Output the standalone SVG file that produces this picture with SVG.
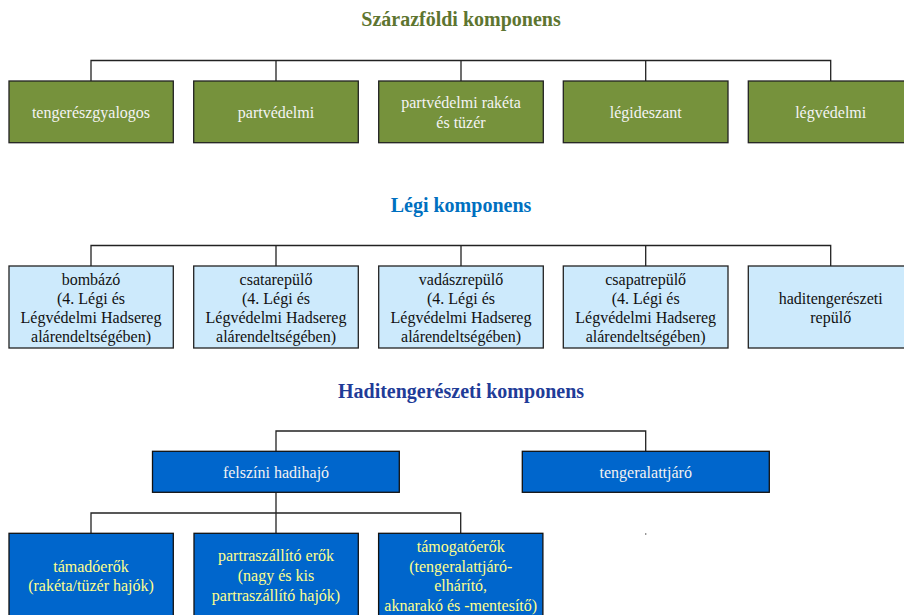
<svg xmlns="http://www.w3.org/2000/svg" width="904" height="615" viewBox="0 0 904 615" font-family="'Liberation Serif', 'DejaVu Serif', serif">
<style>
text{font-family:'Liberation Serif','Times New Roman',serif;text-anchor:middle;dominant-baseline:central}
.title{font-size:20px;font-weight:bold}
.t1{fill:#5e7530}.t2{fill:#0070c0}.t3{fill:#1f3c98}
.g rect{fill:#76923c;stroke:#222;stroke-width:1.3}
.g text{fill:#f4f4f4;font-size:16px}
.l rect{fill:#cdeafc;stroke:#222;stroke-width:1.3}
.l text{fill:#111;font-size:16px}
.b rect{fill:#0066cc;stroke:#111;stroke-width:1.3}
.b text{fill:#f2f2f2;font-size:16px}
.y text{fill:#ffff8c}
.conn path{fill:none;stroke:#222;stroke-width:1.3}
</style>
<text class="title t1" x="461" y="19">Szárazföldi komponens</text>
<text class="title t2" x="461" y="205">Légi komponens</text>
<text class="title t3" x="461" y="391">Haditengerészeti komponens</text>
<g id="connectors" class="conn">
<path d="M91 81V60.5H830.7V81M276 60.5V81M461 60.5V81M645.7 60.5V81"/>
<path d="M91 266V245.5H830.7V266M276 245.5V266M461 245.5V266M645.7 245.5V266"/>
<path d="M276 451V431H645.7V451"/>
<path d="M276 492V513M91 533V513H460.7V533M276 513V533"/>
<path d="M645.7 533.5V534.5" stroke="#999"/>
</g>
<g id="n_tengereszgyalogos" class="g"><rect x="9" y="81" width="164.3" height="61.7"/><text x="91" y="112">tengerészgyalogos</text></g>
<g id="n_partvedelmi" class="g"><rect x="193.7" y="81" width="164.6" height="61.7"/><text x="276" y="112">partvédelmi</text></g>
<g id="n_raketa" class="g"><rect x="378.7" y="81" width="164.6" height="61.7"/><text x="461" y="102">partvédelmi rakéta</text><text x="461" y="122">és tüzér</text></g>
<g id="n_legideszant" class="g"><rect x="563.3" y="81" width="164.7" height="61.7"/><text x="645.7" y="112">légideszant</text></g>
<g id="n_legvedelmi" class="g"><rect x="748.3" y="81" width="165" height="61.7"/><text x="830.7" y="112">légvédelmi</text></g>
<g id="n_bombazo" class="l"><rect x="9" y="266" width="164.3" height="82"/><text x="91" y="279.5">bombázó</text><text x="91" y="298.5">(4. Légi és</text><text x="91" y="317.7">Légvédelmi Hadsereg</text><text x="91" y="336.7">alárendeltségében)</text></g>
<g id="n_csatarepulo" class="l"><rect x="193.7" y="266" width="164.6" height="82"/><text x="276" y="279.5">csatarepülő</text><text x="276" y="298.5">(4. Légi és</text><text x="276" y="317.7">Légvédelmi Hadsereg</text><text x="276" y="336.7">alárendeltségében)</text></g>
<g id="n_vadaszrepulo" class="l"><rect x="378.7" y="266" width="164.6" height="82"/><text x="461" y="279.5">vadászrepülő</text><text x="461" y="298.5">(4. Légi és</text><text x="461" y="317.7">Légvédelmi Hadsereg</text><text x="461" y="336.7">alárendeltségében)</text></g>
<g id="n_csapatrepulo" class="l"><rect x="563.3" y="266" width="164.7" height="82"/><text x="645.7" y="279.5">csapatrepülő</text><text x="645.7" y="298.5">(4. Légi és</text><text x="645.7" y="317.7">Légvédelmi Hadsereg</text><text x="645.7" y="336.7">alárendeltségében)</text></g>
<g id="n_haditengereszeti_repulo" class="l"><rect x="748.3" y="266" width="165" height="82"/><text x="830.7" y="298.5">haditengerészeti</text><text x="830.7" y="317.7">repülő</text></g>
<g id="n_felszini" class="b"><rect x="152.5" y="451.3" width="246.8" height="41"/><text x="276" y="472">felszíni hadihajó</text></g>
<g id="n_tengeralattjaro" class="b"><rect x="522.3" y="451.3" width="247" height="41"/><text x="645.7" y="472">tengeralattjáró</text></g>
<g id="n_tamadoerok" class="b y"><rect x="9" y="533.3" width="164.3" height="90"/><text x="91" y="566">támadóerők</text><text x="91" y="585">(rakéta/tüzér hajók)</text></g>
<g id="n_partraszallito" class="b y"><rect x="194" y="533.3" width="164.3" height="90"/><text x="276" y="555.7">partraszállító erők</text><text x="276" y="575.5">(nagy és kis</text><text x="276" y="595">partraszállító hajók)</text></g>
<g id="n_tamogatoerok" class="b y"><rect x="378.6" y="533.3" width="164.3" height="90"/><text x="460.7" y="546.7">támogatóerők</text><text x="460.7" y="566.5">(tengeralattjáró-</text><text x="460.7" y="585.7">elhárító,</text><text x="460.7" y="605">aknarakó és -mentesítő)</text></g>
</svg>
